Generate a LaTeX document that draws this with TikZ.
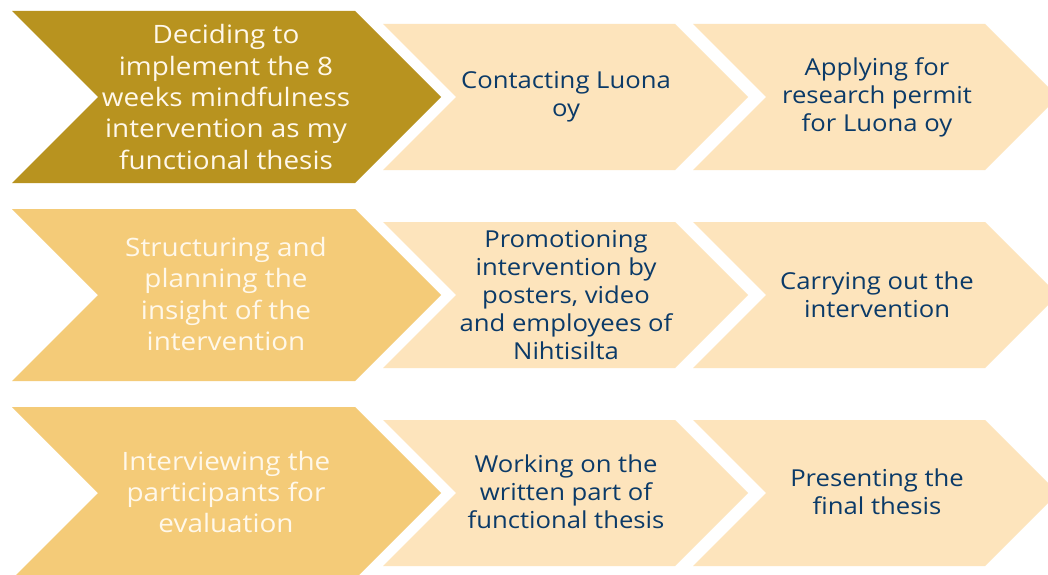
\documentclass[tikz,border=0pt]{standalone}
\usepackage{fontspec}
\setmainfont[FakeStretch=1.1]{Open Sans}
\definecolor{darkgold}{HTML}{B8931F}
\definecolor{midgold}{HTML}{F4CB78}
\definecolor{cream}{HTML}{FDE4BC}
\definecolor{navy}{HTML}{0B3A68}
\definecolor{paletext}{HTML}{FFF8EA}
\tikzset{
  bigtext/.style={align=center, font=\fontsize{19}{23.5}\selectfont, inner sep=0pt},
  smalltext/.style={align=center, font=\fontsize{17.5}{21}\selectfont, text=navy, inner sep=0pt},
}
% chevron: left x, mid y, body width, half height, colour
\newcommand{\chevron}[5]{%
  \fill[#5] (#1,#2-#4) -- (#1+#3,#2-#4) -- (#1+#3+#4,#2) -- (#1+#3,#2+#4)
    -- (#1,#2+#4) -- (#1+#4,#2) -- cycle;}
\begin{document}
\begin{tikzpicture}[x=0.75pt,y=-0.75pt]
\useasboundingbox (0,0) rectangle (1048,574);
\clip (0,0) rectangle (1048,574);
\fill[white] (0,0) rectangle (1048,574);

% row 1
\chevron{12}{97}{343}{86}{darkgold}
\chevron{383}{97}{292}{73}{cream}
\chevron{693}{97}{292}{73}{cream}
\node[bigtext, text=paletext] (a1) at (226,97) {Deciding to\\implement the 8\\weeks mindfulness\\intervention as my\\functional thesis};
\node[smalltext] (a2) at (566,97) {Contacting Luona\\oy};
\node[smalltext] (a3) at (877,97) {Applying for\\research permit\\for Luona oy};

% row 2
\chevron{12}{295}{343}{86}{midgold}
\chevron{383}{295}{292}{73}{cream}
\chevron{693}{295}{292}{73}{cream}
\node[bigtext, text=paletext] (b1) at (226,294) {Structuring and\\planning the\\insight of the\\intervention};
\node[smalltext] (b2) at (566,295) {Promotioning\\intervention by\\posters, video\\and employees of\\Nihtisilta};
\node[smalltext] (b3) at (877,295) {Carrying out the\\intervention};

% row 3
\chevron{12}{493}{343}{86}{midgold}
\chevron{383}{493}{292}{73}{cream}
\chevron{693}{493}{292}{73}{cream}
\node[bigtext, text=paletext] (c1) at (226,492) {Interviewing the\\participants for\\evaluation};
\node[smalltext] (c2) at (566,492) {Working on the\\written part of\\functional thesis};
\node[smalltext] (c3) at (877,492) {Presenting the\\final thesis};
\end{tikzpicture}
\end{document}
